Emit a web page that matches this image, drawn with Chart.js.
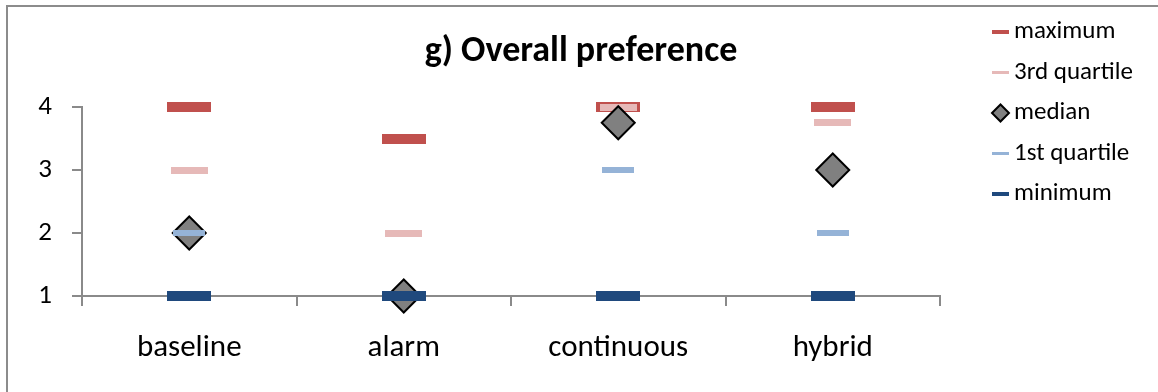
<!DOCTYPE html>
<html>
<head>
<meta charset="utf-8">
<script src="https://cdn.jsdelivr.net/npm/chart.js@4/dist/chart.umd.min.js"></script>
<style>
  html, body { margin: 0; padding: 0; background: #fff; overflow: hidden; }
  #marco {
    position: absolute; left: 6px; top: 5px; width: 1300px; height: 500px;
    border-left: 2px solid #8c8c8c; border-top: 2px solid #8c8c8c;
  }
  #grafica { position: absolute; left: 0; top: 0; }
</style>
</head>
<body>
<div id="marco"></div>
<canvas id="grafica" width="1158" height="392"></canvas>
<script>
// valores por condición
const categorias = ['baseline', 'alarm', 'continuous', 'hybrid'];
const maximo = [4, 3.5, 4, 4];
const cuartil3 = [3, 2, 4, 3.75];
const mediana = [2, 1, 3.75, 3];
const cuartil1 = [2, 1, 3, 2];
const minimo = [1, 1, 1, 1];
const nombres = ['maximum', '3rd quartile', 'median', '1st quartile', 'minimum'];

const fuente = 'Calibri, Lato, sans-serif';
const tamLeyenda = 25;

// marcador tipo guion (rectángulo) para usar como pointStyle
function guion(ancho, alto, color) {
    const c = document.createElement('canvas');
    c.width = ancho;
    c.height = alto;
    const g = c.getContext('2d');
    g.fillStyle = color;
    g.fillRect(0, 0, ancho, alto);
    return c;
}

const rojo = '#C0504D', rosa = '#E6B9B8', celeste = '#95B3D7', azul = '#1F497D';

// versiones pequeñas de los marcadores para la leyenda
const estilosLeyenda = [guion(17, 4, rojo), guion(17, 3, rosa), null, guion(17, 3, celeste), guion(17, 4, azul)];

function crearGrafica() {
    // ancho de la leyenda (igual que lo calcula Chart.js) para dejarla en su sitio
    const medir = document.createElement('canvas').getContext('2d');
    medir.font = tamLeyenda + 'px ' + fuente;
    const anchoTexto = Math.max(...nombres.map(n => medir.measureText(n).width));
    const padLeyenda = 15.5;
    const cajaLeyenda = 2;
    const anchoLeyenda = padLeyenda + cajaLeyenda + tamLeyenda / 2 + anchoTexto + 10;
    const izqLeyenda = 984;
    const padDer = 1158 - izqLeyenda - anchoLeyenda;
    const padIzq = padDer + 4;
    const padArriba = 4;

    const config = {
        type: 'line',
        data: {
            labels: categorias,
            datasets: [
                { label: nombres[0], data: maximo, pointStyle: guion(44, 10, rojo), order: 4 },
                { label: nombres[1], data: cuartil3, pointStyle: guion(37, 7, rosa), order: 3 },
                {
                    label: nombres[2], data: mediana, pointStyle: 'rectRot', pointRadius: 16.5,
                    pointBackgroundColor: '#808080', pointBorderColor: '#000000', pointBorderWidth: 2,
                    backgroundColor: '#808080', borderColor: '#000000', borderWidth: 2, order: 2
                },
                { label: nombres[3], data: cuartil1, pointStyle: guion(32, 6, celeste), order: 1 },
                { label: nombres[4], data: minimo, pointStyle: guion(44, 10, azul), order: 0 }
            ]
        },
        options: {
            responsive: false,
            animation: false,
            events: [],
            datasets: { line: { showLine: false, clip: false } },
            layout: { padding: { left: padIzq, top: padArriba, bottom: 0, right: padDer } },
            plugins: {
                tooltip: { enabled: false },
                title: {
                    display: true,
                    text: 'g) Overall preference',
                    color: '#000',
                    font: { family: fuente, size: 36, weight: 'bold' },
                    padding: { top: 26, bottom: 107 - padArriba - 26 - 36 * 1.2 }
                },
                legend: {
                    position: 'right',
                    align: 'start',
                    reverse: true,
                    labels: {
                        usePointStyle: true,
                        boxWidth: cajaLeyenda,
                        boxHeight: 12,
                        padding: padLeyenda,
                        color: '#000',
                        font: { family: fuente, size: tamLeyenda },
                        generateLabels(chart) {
                            const items = Chart.defaults.plugins.legend.labels.generateLabels(chart);
                            items.forEach(it => {
                                const e = estilosLeyenda[it.datasetIndex];
                                if (e) it.pointStyle = e;
                            });
                            return items;
                        }
                    }
                }
            },
            scales: {
                x: {
                    offset: true,
                    grid: { offset: true, drawOnChartArea: false, drawTicks: true, tickLength: 10, color: '#8a8a8a', lineWidth: 2 },
                    border: { color: '#8a8a8a', width: 2 },
                    ticks: { color: '#000', padding: 24, font: { family: fuente, size: 31 } },
                    afterFit(s) { s.height = 96; }
                },
                y: {
                    min: 1,
                    max: 4,
                    grid: { drawOnChartArea: false, drawTicks: true, tickLength: 10, color: '#8a8a8a', lineWidth: 2 },
                    border: { color: '#8a8a8a', width: 2 },
                    ticks: { stepSize: 1, color: '#000', padding: 20, font: { family: fuente, size: 27 } },
                    afterFit(s) { s.width = 82 - padIzq; }
                },
                // hueco entre el área de la gráfica y la leyenda
                hueco: {
                    axis: 'y',
                    position: 'right',
                    grid: { display: false },
                    border: { display: false },
                    ticks: { display: false },
                    afterFit(s) { s.width = izqLeyenda - 940; }
                }
            }
        }
    };

    const ctx = document.getElementById('grafica').getContext('2d');
    new Chart(ctx, config);
}

document.fonts.load(tamLeyenda + 'px Lato').then(crearGrafica, crearGrafica);
</script>
</body>
</html>
